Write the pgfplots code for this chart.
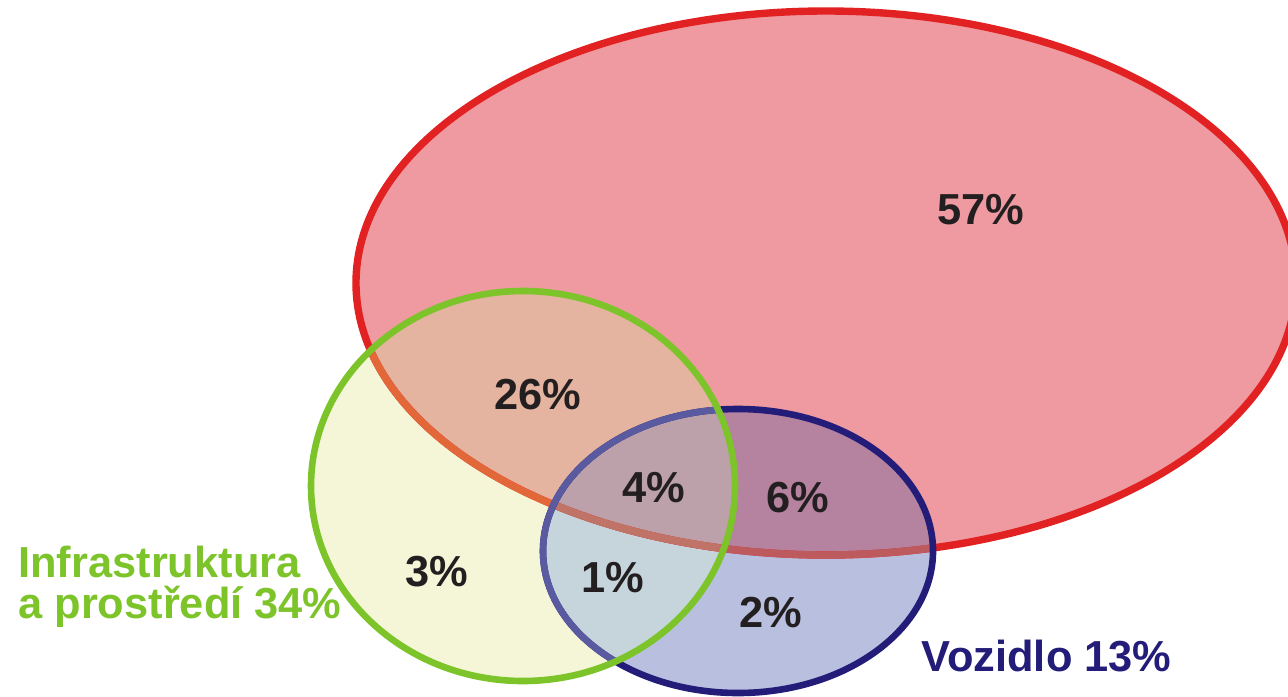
\documentclass[border=0pt]{standalone}
\usepackage{pgfplots}
\pgfplotsset{compat=1.18}
\usepackage{fontspec}
\setmainfont{Liberation Sans}
\definecolor{redLine}{HTML}{E22222}
\definecolor{redLineG}{HTML}{E2683A}
\definecolor{redLineB}{HTML}{BC5A5E}
\definecolor{redLineGB}{HTML}{C07468}
\definecolor{greenLine}{HTML}{7CC42A}
\definecolor{blueLine}{HTML}{231C78}
\definecolor{blueLineG}{HTML}{5A5AA0}
\definecolor{fY}{HTML}{F5F6D8}
\definecolor{fR}{HTML}{EE9AA0}
\definecolor{fRG}{HTML}{E4B4A0}
\definecolor{fB}{HTML}{B8BFDF}
\definecolor{fRB}{HTML}{B5829F}
\definecolor{fGB}{HTML}{C6D4DC}
\definecolor{fRGB}{HTML}{BDA1AA}
\definecolor{txt}{HTML}{231F20}
\newcommand{\Rpath}{(axis cs:826,283) ellipse [x radius=470, y radius=272]}
\newcommand{\Gpath}{(axis cs:523,486) ellipse [x radius=212, y radius=195]}
\newcommand{\Bpath}{(axis cs:738,551) ellipse [x radius=195, y radius=142]}
\begin{document}
\begin{tikzpicture}
\begin{axis}[width=644pt,height=348pt,scale only axis,
  xmin=0,xmax=1288,ymin=0,ymax=696,y dir=reverse,hide axis,clip=true]
% fills
\fill[fY] \Gpath;
\fill[fR] \Rpath;
\begin{scope}\clip \Gpath; \fill[fRG] \Rpath; \end{scope}
\fill[fB] \Bpath;
\begin{scope}\clip \Rpath; \fill[fRB] \Bpath; \end{scope}
\begin{scope}\clip \Gpath; \fill[fGB] \Bpath; \end{scope}
\begin{scope}\clip \Gpath; \clip \Rpath; \fill[fRGB] \Bpath; \end{scope}
% red outline
\draw[redLine, line width=3.7pt] \Rpath;
\begin{scope}\clip \Gpath; \draw[redLineG, line width=3.7pt] \Rpath; \end{scope}
\begin{scope}\clip \Bpath; \draw[redLineB, line width=3.7pt] \Rpath; \end{scope}
\begin{scope}\clip \Bpath; \clip \Gpath; \draw[redLineGB, line width=3.7pt] \Rpath; \end{scope}
% blue outline
\draw[blueLine, line width=3.3pt] \Bpath;
\begin{scope}\clip \Gpath; \draw[blueLineG, line width=3.3pt] \Bpath; \end{scope}
% green outline
\draw[greenLine, line width=3.3pt] \Gpath;
% labels
\begin{scope}[every node/.style={font=\fontsize{21.7}{24}\selectfont\bfseries, text=txt, inner sep=0pt}]
\node at (axis cs:981,210) {57\%};
\node at (axis cs:538,395) {26\%};
\node at (axis cs:654,488) {4\%};
\node at (axis cs:798,498) {6\%};
\node at (axis cs:437,572) {3\%};
\node at (axis cs:613,578) {1\%};
\node at (axis cs:771,613) {2\%};
\end{scope}
\node[anchor=base west, inner sep=0pt, text=greenLine, font=\fontsize{21.7}{24}\selectfont\bfseries] at (axis cs:18,577) {Infrastruktura};
\node[anchor=base west, inner sep=0pt, text=greenLine, font=\fontsize{21.7}{24}\selectfont\bfseries] at (axis cs:18,618) {a prostředí 34\%};
\node[anchor=base west, inner sep=0pt, text=blueLine, font=\fontsize{21.7}{24}\selectfont\bfseries] at (axis cs:921,671) {Vozidlo 13\%};
\end{axis}
\pgfresetboundingbox
\path (current axis.south west) rectangle (current axis.north east);
\end{tikzpicture}
\end{document}
